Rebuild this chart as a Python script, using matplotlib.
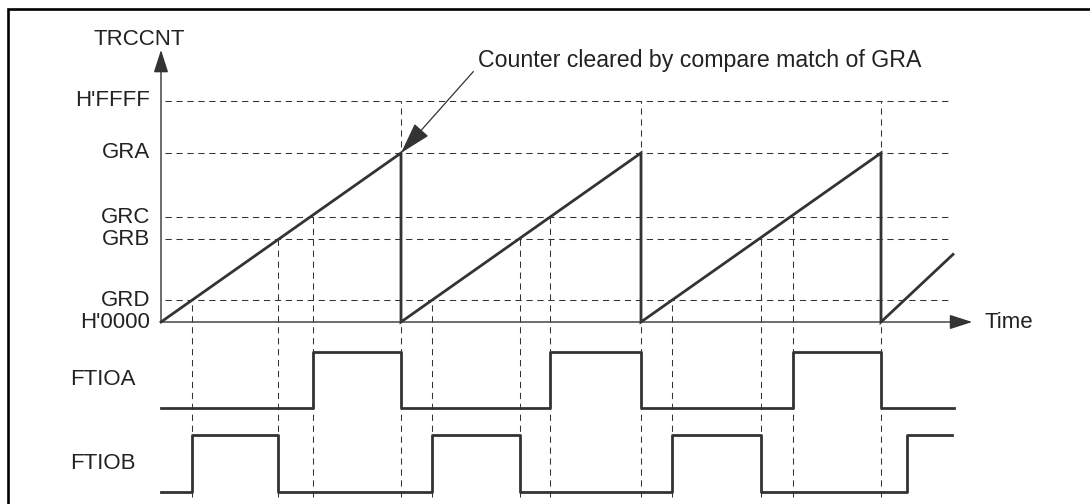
import numpy as np
import matplotlib
matplotlib.use("Agg")
import matplotlib.pyplot as plt
from matplotlib.patches import Rectangle

plt.rcParams['font.family'] = ['Liberation Sans', 'DejaVu Sans']

# counter levels (relative to GRA = 1)
level_names = ["H'FFFF", "GRA", "GRC", "GRB", "GRD", "H'0000"]
level_values = [1.31, 1.0, 0.62, 0.49, 0.13, 0.0]

# TRCCNT sawtooth (time in GRA periods)
cnt_t = [0, 1, 1, 2, 2, 3, 3, 3.3]
cnt_v = [0, 1, 0, 1, 0, 1, 0, 0.40]

# output waveforms
ftioa_t = [0, 0.633, 1.0, 1.621, 2.0, 2.633, 3.0, 3.305]
ftioa_v = [0, 1, 0, 1, 0, 1, 0, 0]
ftiob_t = [0, 0.13, 0.488, 1.13, 1.496, 2.13, 2.5, 3.108, 3.296]
ftiob_v = [0, 1, 0, 1, 0, 1, 0, 1, 1]

# vertical guide lines: time and level they start from
guide_t = [0.13, 0.488, 0.633, 1.0, 1.13, 1.496, 1.621, 2.0, 2.13, 2.5, 2.633, 3.0]
guide_top = [0.13, 0.49, 0.62, 1.31] * 3

# pixel layout: origin, period width, GRA height
W, H = 1090, 504
X0, PX = 161, 240
Y0, PY = 322, 169
dark = '#333333'
txt = '#222222'

fig = plt.figure(figsize=(W / 100, H / 100), dpi=100)
ax = fig.add_axes([0, 0, 1, 1])
ax.set_xlim(-X0 / PX, (W - X0) / PX)
ax.set_ylim((Y0 - H) / PY, Y0 / PY)
ax.axis('off')

# frame
fig.patches.append(Rectangle((8 / W, -0.1), 1.2, 1.1 - 9 / H, transform=fig.transFigure,
                             fill=False, lw=1.9, ec='black'))

dash = dict(color=dark, lw=0.75, dashes=(6, 4.5))
for name, v in zip(level_names, level_values):
    if v > 0:
        ax.plot([0.017, 3.28], [v, v], **dash)
    ax.text(-0.046, v, name, ha='right', va='center', fontsize=16, color=txt)

bottom = -1.035
for t, top in zip(guide_t, guide_top):
    ax.plot([t, t], [bottom, top], **dash)

# axes with arrows
ax.annotate('', xy=(0, 1.61), xytext=(0, 0),
            arrowprops=dict(arrowstyle='-|>,head_length=1.4,head_width=0.45', color=dark,
                            lw=1.0, shrinkA=0, shrinkB=0))
ax.annotate('', xy=(3.38, 0), xytext=(0, 0),
            arrowprops=dict(arrowstyle='-|>,head_length=1.4,head_width=0.45', color=dark,
                            lw=1.0, shrinkA=0, shrinkB=0))
ax.text(-0.092, 1.67, 'TRCCNT', ha='center', va='center', fontsize=16, color=txt)
ax.text(3.43, 0, 'Time', ha='left', va='center', fontsize=16, color=txt)

ax.plot(cnt_t, cnt_v, color=dark, lw=2.0, solid_joinstyle='miter')

a_base, a_amp = -0.509, 0.331
b_base, b_amp = -1.006, 0.337
ax.step(ftioa_t, a_base + a_amp * np.array(ftioa_v), where='post', color=dark, lw=2.0)
ax.step(ftiob_t, b_base + b_amp * np.array(ftiob_v), where='post', color=dark, lw=2.0)
ax.text(-0.379, -0.343, 'FTIOA', ha='left', va='center', fontsize=16, color=txt)
ax.text(-0.379, -0.835, 'FTIOB', ha='left', va='center', fontsize=16, color=txt)

ax.annotate('Counter cleared by compare match of GRA', xy=(1.0, 1.0), xytext=(1.32, 1.55),
            ha='left', va='center', fontsize=16.7, color=txt,
            arrowprops=dict(arrowstyle='-|>,head_length=1.2,head_width=0.35', color=dark,
                            lw=0.9, shrinkA=0, shrinkB=0, relpos=(-0.01, 0.0)))

fig.savefig('out.png', dpi=100)
